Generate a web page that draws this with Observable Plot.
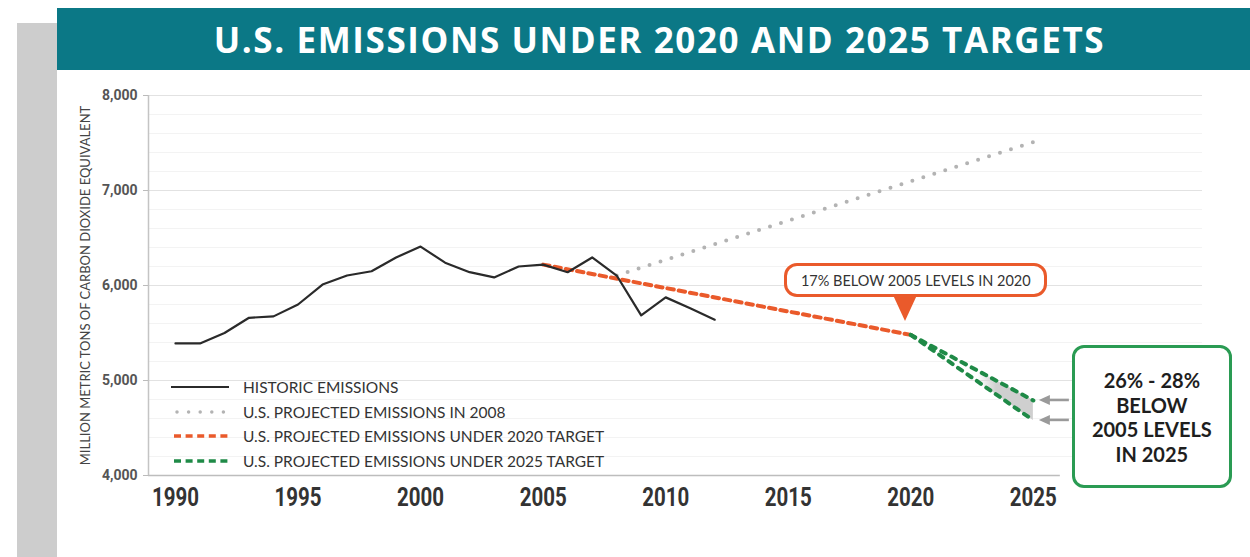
<!DOCTYPE html>
<html>
<head>
<meta charset="utf-8">
<script src="https://cdn.jsdelivr.net/npm/d3@7"></script>
<script src="https://cdn.jsdelivr.net/npm/@observablehq/plot@0.6"></script>
<style>
  body { margin: 0; background: #fff; }
  #page { position: relative; width: 1250px; height: 557px; overflow: hidden; background: #fff; font-family: Lato, "Open Sans", sans-serif; }
  #band { position: absolute; left: 17px; top: 23px; width: 40px; height: 534px; background: #cdcdcd; }
  #title { position: absolute; left: 57px; top: 8px; width: 1193px; height: 62px; background: #0b7886; color: #fff;
           font: 700 35px "Open Sans", sans-serif; letter-spacing: 1.6px; display: flex; align-items: center; justify-content: center;
           padding-left: 12px; box-sizing: border-box; white-space: nowrap; }
  #chart { position: absolute; left: 0; top: 70px; }
  .lrow { position: absolute; left: 170px; height: 20px; display: flex; align-items: center; white-space: nowrap;
          font: 400 15.5px Lato, sans-serif; color: #333; }
  .lrow svg { margin-right: 13px; }
  #callout { position: absolute; box-sizing: border-box; border: 3.5px solid #ea5a2b; border-radius: 13px; background: #fff;
             font: 400 14.5px Lato, sans-serif; color: #333; display: flex; align-items: center; justify-content: center; white-space: nowrap; }
  #callTri { position: absolute; width: 0; height: 0; border-left: 12px solid transparent; border-right: 12px solid transparent; border-top: 26px solid #ea5a2b; }
  #gbox { position: absolute; box-sizing: border-box; border: 3px solid #2a9b53; border-radius: 12px; background: #fff;
          font: 700 20px Lato, sans-serif; color: #1e1e1e; display: flex; flex-direction: column; align-items: center; justify-content: center; line-height: 24.7px; text-align: center; padding-top: 2px; white-space: nowrap; }
</style>
</head>
<body>
<div id="page">
  <div id="band"></div>
  <div id="title"></div>
  <div id="chart"></div>
</div>
<script>
// ---- data ----
const titleText = "U.S. EMISSIONS UNDER 2020 AND 2025 TARGETS";
const yTitle = "MILLION METRIC TONS OF CARBON DIOXIDE EQUIVALENT";
const years = [1990, 1991, 1992, 1993, 1994, 1995, 1996, 1997, 1998, 1999, 2000, 2001,
               2002, 2003, 2004, 2005, 2006, 2007, 2008, 2009, 2010, 2011, 2012];
const historic = [5390, 5390, 5500, 5660, 5675, 5800, 6010, 6105, 6150, 6295, 6410, 6240,
                  6140, 6085, 6200, 6220, 6140, 6295, 6105, 5685, 5875, 5760, 5640];
const proj2008Years = [2008, 2025];
const proj2008 = [6105, 7510];
const target2020Years = [2005, 2020];
const target2020 = [6220, 5480];
const target2025Years = [2020, 2025];
const target2025High = [5480, 4790];
const target2025Low = [5480, 4580];
const xTicks = [1990, 1995, 2000, 2005, 2010, 2015, 2020, 2025];
const yTicks = [4000, 5000, 6000, 7000, 8000];
const legendLabels = ["HISTORIC EMISSIONS", "U.S. PROJECTED EMISSIONS IN 2008",
  "U.S. PROJECTED EMISSIONS UNDER 2020 TARGET", "U.S. PROJECTED EMISSIONS UNDER 2025 TARGET"];
const callout2020 = "17% BELOW 2005 LEVELS IN 2020";
const callout2025 = ["26% - 28%", "BELOW", "2005 LEVELS", "IN 2025"];

// ---- styles ----
const C = { hist: "#2a2a2a", p2008: "#b3b3b3", t2020: "#ea5a2b", t2025: "#1f8a47" };

// ---- tables ----
const histData = years.map((year, i) => ({ year, value: historic[i] }));
const p2008Data = proj2008Years.map((year, i) => ({ year, value: proj2008[i] }));
const t2020Data = target2020Years.map((year, i) => ({ year, value: target2020[i] }));
const t2025Data = target2025Years.map((year, i) => ({ year, high: target2025High[i], low: target2025Low[i] }));
const yMinor = d3.range(yTicks[0], yTicks[yTicks.length - 1], 200).filter(v => v % 1000 !== 0);

document.getElementById("title").textContent = titleText;

const xDomain = [1988.9, 2031.9];
const chart = Plot.plot({
  width: 1250, height: 487,
  marginLeft: 148, marginRight: 48, marginTop: 25, marginBottom: 82,
  x: { domain: xDomain },
  y: { domain: [4000, 8000] },
  style: { background: "transparent", overflow: "visible", fontFamily: "Lato, sans-serif" },
  marks: [
    Plot.ruleY(yMinor, { stroke: "#f3f3f3", strokeWidth: 1 }),
    Plot.ruleY(yTicks.filter(d => d > yTicks[0]), { stroke: "#e2e2e2", strokeWidth: 1.2 }),
    Plot.ruleY([yTicks[0]], { x1: xDomain[0], x2: 2026.1, stroke: "#bdbdbd", strokeWidth: 1.6 }),
    Plot.ruleX([xDomain[0]], { y1: yTicks[0], y2: yTicks[yTicks.length - 1], stroke: "#c4c4c4", strokeWidth: 1.5 }),
    Plot.axisY({ ticks: yTicks, tickSize: 5, tickPadding: 6, tickFormat: d3.format(","), fontSize: 14, fontWeight: 700, color: "#555", label: null }),
    Plot.axisX({ ticks: xTicks, tickSize: 0, tickPadding: 13, tickFormat: d => String(d), fontSize: 25, fontWeight: 700, color: "#333", label: null }),
    Plot.line(p2008Data, { x: "year", y: "value", stroke: C.p2008, strokeWidth: 4, strokeDasharray: "0 11.5", strokeLinecap: "round" }),
    Plot.line(t2020Data, { x: "year", y: "value", stroke: C.t2020, strokeWidth: 4, strokeDasharray: "6.5 5" }),
    Plot.areaY(t2025Data, { x: "year", y1: "low", y2: "high", fill: "url(#shadeGrad)" }),
    Plot.line(t2025Data, { x: "year", y: "high", stroke: C.t2025, strokeWidth: 4, strokeDasharray: "5 6.5" }),
    Plot.line(t2025Data, { x: "year", y: "low", stroke: C.t2025, strokeWidth: 4, strokeDasharray: "5 6.5" }),
    Plot.line(histData, { x: "year", y: "value", stroke: C.hist, strokeWidth: 2.2 }),
    Plot.text([yTitle], { frameAnchor: "left", textAnchor: "middle", rotate: -90, dx: -63, fontSize: 13, fill: "#444", text: d => d })
  ]
});
document.getElementById("chart").appendChild(chart);

const svg = d3.select(chart);
// gradient for shaded range
const grad = svg.insert("defs", ":first-child").append("linearGradient")
  .attr("id", "shadeGrad").attr("x1", 0).attr("x2", 1).attr("y1", 0).attr("y2", 0);
grad.append("stop").attr("offset", 0.55).attr("stop-color", "#cfcfcf").attr("stop-opacity", 0);
grad.append("stop").attr("offset", 0.7).attr("stop-color", "#cfcfcf").attr("stop-opacity", 1);

// axis font tweaks
svg.selectAll('g[aria-label="x-axis tick label"] text')
  .style("font-family", "Roboto, sans-serif").attr("textLength", 47).attr("lengthAdjust", "spacingAndGlyphs");
svg.selectAll('g[aria-label="y-axis tick label"] text').style("font-family", "Roboto, sans-serif");
svg.selectAll('g[aria-label="y-axis tick"]').attr("stroke", "#bbb");

const xs = chart.scale("x"), ys = chart.scale("y");
const top0 = 70;

// arrows toward the 2025 range
const ax = xs.apply(target2025Years[1]);
[target2025High[1], target2025Low[1]].forEach(v => {
  const yy = ys.apply(v);
  svg.append("line").attr("x1", ax + 36).attr("x2", ax + 14).attr("y1", yy).attr("y2", yy)
    .attr("stroke", "#9a9a9a").attr("stroke-width", 2.6);
  svg.append("polygon").attr("points", `${ax + 6},${yy} ${ax + 17},${yy - 5} ${ax + 17},${yy + 5}`).attr("fill", "#9a9a9a");
});

const page = document.getElementById("page");
// legend
const legendTops = [387, 411.5, 436, 460.5];
legendLabels.forEach((lab, i) => {
  const row = document.createElement("div");
  row.className = "lrow";
  row.style.top = (legendTops[i] - 10) + "px";
  const s = d3.create("svg").attr("width", 60).attr("height", 8);
  const l = s.append("line").attr("x1", 1).attr("x2", 59).attr("y1", 4).attr("y2", 4);
  if (i === 0) l.attr("stroke", C.hist).attr("stroke-width", 2);
  if (i === 1) l.attr("x1", 7).attr("stroke", C.p2008).attr("stroke-width", 3.5).attr("stroke-linecap", "round").attr("stroke-dasharray", "0 11.6");
  if (i === 2) l.attr("x1", 4).attr("stroke", C.t2020).attr("stroke-width", 3.5).attr("stroke-dasharray", "7 4.6");
  if (i === 3) l.attr("x1", 4).attr("stroke", C.t2025).attr("stroke-width", 3.5).attr("stroke-dasharray", "7 4.6");
  row.appendChild(s.node());
  row.appendChild(document.createTextNode(lab));
  page.appendChild(row);
});

// 2020 callout
const px = xs.apply(target2025Years[0]);
const py = ys.apply(target2025High[0]) + top0;
const call = document.createElement("div");
call.id = "callout";
call.textContent = callout2020;
Object.assign(call.style, { left: (px - 126) + "px", top: (py - 71) + "px", width: "263px", height: "34px" });
const tri = document.createElement("div");
tri.id = "callTri";
Object.assign(tri.style, { left: (px - 5 - 12) + "px", top: (py - 39) + "px" });
page.appendChild(tri);
page.appendChild(call);

// 2025 box
const gb = document.createElement("div");
gb.id = "gbox";
callout2025.forEach(t => { const d = document.createElement("div"); d.textContent = t; gb.appendChild(d); });
const yHighPage = ys.apply(target2025High[1]) + top0;
Object.assign(gb.style, { left: (ax + 39) + "px", top: (yHighPage - 55) + "px", width: "160px", height: "143px" });
page.appendChild(gb);
</script>
</body>
</html>
